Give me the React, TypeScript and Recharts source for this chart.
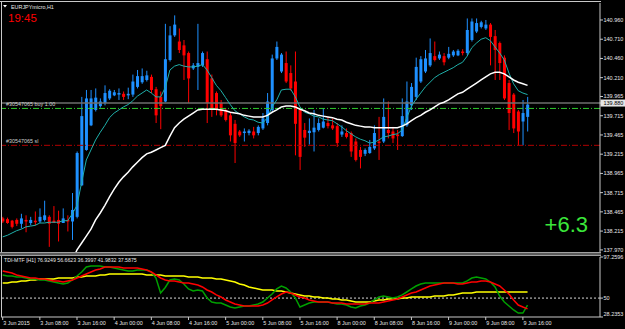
import React from 'react';
import { ComposedChart, Bar, Line, XAxis, YAxis, ReferenceLine } from 'recharts';

const symbolTitle = 'EURJPYmicro,H1';
const clockText = '19:45';
const profitText = '+6.3';
const tdiTitle = 'TDI-MTF [H1] 76.9249 56.6623 36.3997 41.9832 37.5875';
const buyLabel = '#30547065 buy 1.00';
const slLabel = '#30547065 sl';

const timeLabels = ['3 Jun 2015', '3 Jun 08:00', '3 Jun 16:00', '4 Jun 00:00', '4 Jun 08:00', '4 Jun 16:00', '5 Jun 00:00', '5 Jun 08:00', '5 Jun 16:00', '8 Jun 00:00', '8 Jun 08:00', '8 Jun 16:00', '9 Jun 00:00', '9 Jun 08:00', '9 Jun 16:00'];
const timeTickIdx = [0, 8, 16, 24, 32, 40, 48, 56, 64, 72, 80, 88, 96, 104, 112];

const priceTicks = [140.96, 140.71, 140.46, 140.21, 139.965, 139.715, 139.465, 139.215, 138.965, 138.715, 138.465, 138.215, 137.97];
const bidPrice = 139.88;
const buyPrice = 139.81;
const slPrice = 139.33;
const tdiTicks = [97.2596, 50, 28.2353];
const tdiMid = 50;

const opens = [
  138.38, 138.37, 138.35, 138.36, 138.31, 138.36, 138.32, 138.35, 138.34, 138.36,
  138.40, 138.35, 138.36, 138.32, 138.36, 138.34, 138.40, 138.81, 139.27, 139.59,
  139.79, 139.84, 139.88, 139.94, 139.98, 139.99, 140.00, 139.98, 139.99, 140.09,
  140.15, 140.18, 140.22, 140.06, 139.96, 139.90, 140.44, 140.76, 140.68, 140.63,
  140.53, 140.33, 140.35, 140.37, 140.45, 140.20, 140.01, 139.88, 139.79, 139.72,
  139.61, 139.51, 139.49, 139.49, 139.51, 139.49, 139.55, 139.62, 139.79, 140.46,
  140.29, 140.40, 140.27, 140.16, 139.79, 139.53, 139.49, 139.50, 139.53, 139.56,
  139.62, 139.59, 139.58, 139.47, 139.49, 139.49, 139.38, 139.27, 139.22, 139.23,
  139.29, 139.38, 139.38, 139.53, 139.51, 139.47, 139.45, 139.59, 139.85, 139.96,
  140.16, 140.29, 140.37, 140.49, 140.46, 140.49, 140.47, 140.50, 140.50, 140.55,
  140.53, 140.70, 140.81, 140.87, 140.85, 140.90, 140.75, 140.66, 140.47, 140.14,
  139.99, 139.77, 139.64, 139.70,
];
const highs = [
  138.40, 138.39, 138.36, 138.38, 138.44, 138.42, 138.40, 138.47, 138.51, 138.61,
  138.42, 138.54, 138.48, 138.51, 138.42, 138.71, 139.25, 139.96, 140.05, 140.05,
  140.07, 139.94, 140.11, 140.06, 140.05, 140.07, 140.03, 140.08, 140.25, 140.31,
  140.33, 140.30, 140.25, 140.09, 140.03, 140.91, 140.88, 141.02, 140.85, 140.70,
  140.55, 140.40, 140.91, 140.55, 140.55, 140.25, 140.03, 139.92, 139.81, 139.75,
  139.66, 139.53, 139.55, 139.54, 139.57, 139.59, 139.75, 140.01, 140.51, 140.68,
  140.53, 140.55, 140.37, 140.55, 139.83, 139.62, 139.68, 139.79, 139.68, 139.81,
  139.70, 139.68, 139.62, 139.59, 139.55, 139.51, 139.42, 139.31, 139.29, 139.40,
  139.59, 139.70, 139.94, 139.90, 139.57, 139.53, 139.94, 140.16, 140.14, 140.47,
  140.49, 140.57, 140.72, 140.68, 140.55, 140.53, 140.61, 140.57, 140.58, 140.58,
  140.98, 140.98, 140.98, 140.95, 140.96, 140.92, 140.83, 140.68, 140.50, 140.18,
  140.01, 139.79, 139.92, 139.96,
];
const lows = [
  138.32, 138.31, 138.25, 138.28, 138.25, 138.20, 138.29, 138.29, 138.32, 138.34,
  138.01, 138.32, 138.08, 138.32, 138.21, 138.10, 138.38, 138.80, 139.26, 139.58,
  139.77, 139.82, 139.85, 139.92, 139.97, 139.92, 139.92, 139.93, 139.96, 140.07,
  140.13, 140.16, 140.01, 139.62, 139.54, 139.89, 140.42, 140.74, 140.53, 140.18,
  139.88, 140.31, 140.05, 140.35, 139.62, 139.70, 139.72, 139.70, 139.64, 139.38,
  139.10, 139.44, 139.38, 139.46, 139.42, 139.46, 139.53, 139.59, 139.77, 140.44,
  140.27, 140.14, 140.04, 139.20, 139.01, 139.31, 139.34, 139.25, 139.51, 139.55,
  139.55, 139.53, 139.31, 139.44, 139.42, 139.18, 139.12, 139.03, 139.19, 139.22,
  139.27, 139.14, 139.36, 139.42, 139.36, 139.27, 139.44, 139.57, 139.79, 139.92,
  140.14, 140.27, 140.35, 140.42, 140.44, 140.37, 140.45, 140.48, 140.49, 140.50,
  140.50, 140.68, 140.79, 140.85, 140.83, 140.37, 140.18, 140.18, 139.92, 139.53,
  139.49, 139.33, 139.33, 139.51,
];
const closes = [
  138.34, 138.32, 138.27, 138.31, 138.38, 138.34, 138.36, 138.33, 138.40, 138.42,
  138.31, 138.32, 138.31, 138.38, 138.34, 138.49, 139.23, 139.71, 139.94, 139.94,
  139.95, 139.90, 140.01, 140.04, 140.02, 140.01, 139.96, 140.00, 140.16, 140.23,
  140.23, 140.24, 140.05, 139.72, 139.84, 140.45, 140.76, 140.90, 140.57, 140.50,
  140.20, 140.37, 140.40, 140.53, 139.88, 139.79, 139.79, 139.72, 139.66, 139.46,
  139.36, 139.46, 139.51, 139.52, 139.46, 139.57, 139.68, 139.90, 140.46, 140.61,
  140.51, 140.16, 140.07, 139.61, 139.18, 139.43, 139.52, 139.56, 139.62, 139.64,
  139.58, 139.55, 139.36, 139.51, 139.44, 139.25, 139.14, 139.18, 139.27, 139.31,
  139.49, 139.36, 139.70, 139.49, 139.42, 139.45, 139.71, 139.90, 140.09, 140.35,
  140.45, 140.46, 140.53, 140.44, 140.51, 140.41, 140.52, 140.55, 140.56, 140.53,
  140.83, 140.94, 140.92, 140.93, 140.90, 140.74, 140.57, 140.40, 139.94, 139.75,
  139.55, 139.51, 139.75, 139.86,
];
const fastMA = [
  138.14, 138.16, 138.19, 138.22, 138.24, 138.27, 138.28, 138.29, 138.32, 138.32,
  138.33, 138.33, 138.33, 138.35, 138.35, 138.44, 138.55, 138.85, 139.14, 139.27,
  139.40, 139.50, 139.59, 139.69, 139.75, 139.79, 139.83, 139.86, 139.91, 139.97,
  140.01, 140.05, 140.01, 139.96, 139.96, 140.08, 140.31, 140.36, 140.38, 140.36,
  140.35, 140.35, 140.36, 140.38, 140.31, 140.21, 140.11, 140.04, 139.95, 139.86,
  139.78, 139.74, 139.70, 139.67, 139.66, 139.63, 139.62, 139.69, 139.83, 139.92,
  140.05, 140.06, 140.06, 139.96, 139.83, 139.76, 139.74, 139.71, 139.70, 139.67,
  139.66, 139.65, 139.61, 139.57, 139.52, 139.48, 139.44, 139.41, 139.39, 139.36,
  139.37, 139.40, 139.44, 139.45, 139.47, 139.48, 139.53, 139.69, 139.84, 139.93,
  140.01, 140.09, 140.15, 140.21, 140.25, 140.28, 140.31, 140.34, 140.38, 140.41,
  140.49, 140.60, 140.66, 140.71, 140.73, 140.69, 140.61, 140.53, 140.44, 140.27,
  140.13, 140.04, 140.01, 139.99,
];
const slowMA = [
  null, null, null, null, null, null, null, null, null, null,
  null, null, null, null, null, 137.84, 137.97, 138.06, 138.15, 138.24,
  138.36, 138.45, 138.55, 138.66, 138.76, 138.85, 138.92, 138.98, 139.05, 139.11,
  139.17, 139.22, 139.24, 139.27, 139.30, 139.33, 139.45, 139.56, 139.62, 139.67,
  139.71, 139.75, 139.79, 139.80, 139.80, 139.80, 139.80, 139.79, 139.78, 139.76,
  139.75, 139.74, 139.72, 139.71, 139.70, 139.70, 139.70, 139.72, 139.76, 139.79,
  139.83, 139.84, 139.84, 139.83, 139.80, 139.78, 139.75, 139.74, 139.72, 139.71,
  139.70, 139.69, 139.67, 139.66, 139.63, 139.61, 139.59, 139.58, 139.57, 139.57,
  139.56, 139.56, 139.56, 139.56, 139.56, 139.56, 139.58, 139.61, 139.65, 139.69,
  139.72, 139.76, 139.79, 139.83, 139.87, 139.89, 139.92, 139.96, 140.00, 140.02,
  140.06, 140.10, 140.14, 140.18, 140.22, 140.26, 140.28, 140.28, 140.26, 140.22,
  140.18, 140.15, 140.13, 140.11,
];
const tdiRed = [
  81.2, 80.0, 78.9, 76.6, 75.4, 74.3, 73.1, 73.1, 72.0, 72.0,
  70.8, 69.7, 69.7, 68.5, 69.7, 70.8, 73.1, 75.4, 77.7, 80.0,
  82.3, 83.5, 85.8, 85.8, 85.8, 85.8, 84.6, 84.6, 84.6, 84.6,
  83.5, 82.3, 80.0, 76.6, 73.1, 70.8, 69.7, 69.7, 68.5, 67.4,
  67.4, 66.2, 65.1, 62.8, 59.3, 57.0, 53.6, 51.3, 47.8, 45.5,
  43.2, 42.0, 40.9, 40.9, 40.9, 40.9, 42.0, 44.3, 47.8, 51.3,
  54.7, 57.0, 55.9, 53.6, 51.3, 50.1, 47.8, 46.7, 45.5, 45.5,
  45.5, 44.3, 44.3, 44.3, 43.2, 43.2, 43.2, 43.2, 43.2, 44.3,
  44.3, 44.3, 45.5, 46.7, 47.8, 49.0, 51.3, 53.6, 55.9, 57.0,
  59.3, 61.6, 63.9, 65.1, 66.2, 67.4, 67.4, 67.4, 66.2, 66.2,
  67.4, 68.5, 68.5, 69.7, 69.7, 68.5, 66.2, 63.9, 59.3, 54.7,
  47.8, 42.0, 39.7, 37.6,
];
const tdiGreen = [
  76.6, 75.4, 75.4, 74.3, 74.3, 73.1, 72.0, 72.0, 70.8, 70.8,
  69.7, 68.5, 67.4, 66.2, 67.4, 70.8, 75.4, 80.0, 85.8, 86.9,
  86.9, 86.9, 85.8, 85.8, 84.6, 83.5, 82.3, 81.2, 81.2, 82.3,
  82.3, 82.3, 80.0, 73.1, 56.0, 62.2, 70.8, 72.0, 70.8, 66.2,
  60.5, 58.2, 59.3, 58.2, 50.1, 45.5, 44.3, 44.3, 42.0, 39.7,
  38.6, 39.7, 40.9, 40.9, 42.0, 43.2, 45.5, 50.1, 54.7, 60.5,
  63.9, 61.6, 57.0, 50.1, 39.7, 42.0, 44.3, 45.5, 45.5, 45.5,
  45.5, 44.3, 43.2, 43.2, 42.0, 39.7, 38.6, 40.9, 42.0, 44.3,
  47.8, 51.3, 52.4, 51.3, 50.1, 51.3, 53.6, 57.0, 60.5, 63.9,
  66.2, 67.4, 67.4, 67.4, 67.4, 67.4, 67.4, 67.4, 67.4, 67.4,
  69.7, 73.1, 74.3, 73.1, 72.0, 68.5, 62.8, 52.4, 45.5, 40.9,
  36.3, 32.8, 32.8, 42.0,
];
const tdiYellow = [
  67.4, 67.4, 68.5, 68.5, 69.7, 69.7, 70.8, 70.8, 72.0, 72.0,
  72.0, 72.0, 73.1, 73.1, 73.1, 73.1, 74.3, 74.3, 75.4, 75.4,
  75.4, 76.6, 76.6, 77.7, 77.7, 77.7, 77.7, 77.7, 77.7, 77.7,
  77.7, 76.6, 76.6, 76.6, 76.6, 75.4, 75.4, 75.4, 75.4, 75.4,
  74.3, 74.3, 74.3, 73.1, 73.1, 73.1, 72.0, 72.0, 70.8, 69.7,
  68.5, 66.2, 65.1, 62.8, 61.6, 60.5, 59.3, 59.3, 59.3, 58.2,
  58.2, 57.0, 55.9, 54.7, 53.6, 52.4, 52.4, 51.3, 51.3, 50.1,
  50.1, 49.0, 49.0, 47.8, 47.8, 46.7, 45.5, 45.5, 45.5, 45.5,
  46.7, 47.8, 47.8, 49.0, 49.0, 49.0, 50.1, 50.1, 51.3, 51.3,
  51.3, 51.3, 51.3, 52.4, 52.4, 52.4, 53.6, 53.6, 54.7, 55.9,
  55.9, 55.9, 57.0, 57.0, 57.0, 57.0, 57.0, 57.0, 57.0, 57.0,
  57.0, 57.0, 57.0, 57.0,
];

const data = opens.map((o, i) => ({
  i,
  o,
  h: highs[i],
  l: lows[i],
  c: closes[i],
  fast: fastMA[i],
  slow: slowMA[i],
  g: tdiGreen[i],
  r: tdiRed[i],
  yl: tdiYellow[i],
}));

const FONT = "'Liberation Sans', Arial, sans-serif";
const AXIS_GRAY = '#c8c8c8';
const TEXT_COL = '#e8e8e8';
const X_DOMAIN: [number, number] = [-0.366, 128.6];

const Candle = (props: any) => {
  const { x, y, width, height, payload } = props;
  if (x == null || y == null || payload == null) return null;
  const top = Math.min(y, y + height);
  const h = Math.abs(height);
  const range = payload.h - payload.l;
  const k = range > 0 ? h / range : 0;
  const cx = x + width / 2;
  const bodyTop = top + (payload.h - Math.max(payload.o, payload.c)) * k;
  const bodyH = Math.max(1, Math.abs(payload.o - payload.c) * k);
  const col = payload.c >= payload.o ? '#1e90ff' : '#ff0000';
  return (
    <g>
      <line x1={cx} x2={cx} y1={top} y2={top + h} stroke={col} strokeWidth={1} />
      <rect x={cx - 1.5} y={bodyTop} width={3} height={bodyH} fill={col} />
    </g>
  );
};

const PriceTick = (props: any) => {
  const { x, y, payload } = props;
  const v = payload.value;
  if (Math.abs(v - bidPrice) < 1e-6) {
    return (
      <g>
        <rect x={x - 3} y={y - 3.5} width={625 - x + 3} height={7} fill="#e6e6e6" />
        <text x={x} y={y} dy="0.35em" fontSize={5.5} fontFamily={FONT} fill="#000">
          {v.toFixed(3)}
        </text>
      </g>
    );
  }
  return (
    <text x={x} y={y} dy="0.35em" fontSize={5.5} fontFamily={FONT} fill={TEXT_COL}>
      {v.toFixed(3)}
    </text>
  );
};

const TdiTick = (props: any) => {
  const { x, y, payload } = props;
  const v = payload.value;
  const shift = v < 40 ? -2.5 : v > 90 ? 0.5 : 0;
  return (
    <text x={x} y={y + shift} dy="0.35em" fontSize={5.5} fontFamily={FONT} fill={TEXT_COL}>
      {String(v)}
    </text>
  );
};

const TimeTick = (props: any) => {
  const { x, payload } = props;
  const idx = timeTickIdx.indexOf(payload.value);
  const label = idx >= 0 ? timeLabels[idx] : '';
  return (
    <g>
      <line x1={x} x2={x} y1={317} y2={320} stroke={AXIS_GRAY} strokeWidth={1} />
      <text x={x + 0.5} y={325} fontSize={5.4} fontFamily={FONT} fill={TEXT_COL}>
        {label}
      </text>
    </g>
  );
};

const RefLabel = (props: any) => {
  const { viewBox, text } = props;
  if (!viewBox) return null;
  return (
    <text x={viewBox.x + 5} y={viewBox.y - 2} fontSize={5.4} fontFamily={FONT} fill="#d0d0d0">
      {text}
    </text>
  );
};

export default function App() {
  return (
    <div style={{ position: 'absolute', left: 0, top: 0, width: 625, height: 329, background: '#000', overflow: 'hidden' }}>
      <div style={{ position: 'absolute', left: 0, top: 0 }}>
        <ComposedChart width={625} height={329} data={data} margin={{ top: 3, right: 0, bottom: 77, left: 1 }}>
          <XAxis type="number" dataKey="i" domain={X_DOMAIN} allowDataOverflow hide />
          <YAxis
            type="number"
            orientation="right"
            width={25}
            domain={[137.943, 141.181]}
            allowDataOverflow
            ticks={[...priceTicks, bidPrice]}
            interval={0}
            tick={<PriceTick />}
            tickSize={3}
            tickMargin={0.5}
            tickLine={{ stroke: AXIS_GRAY }}
            axisLine={{ stroke: AXIS_GRAY }}
          />
          <ReferenceLine y={bidPrice} stroke="#6e6e6e" strokeWidth={1.5} />
          <ReferenceLine y={buyPrice} stroke="#2ecc2e" strokeDasharray="6 2 1 2" label={<RefLabel text={buyLabel} />} />
          <ReferenceLine y={slPrice} stroke="#b00000" strokeDasharray="6 2 1 2" label={<RefLabel text={slLabel} />} />
          <Bar dataKey={(d: any) => [d.l, d.h]} shape={<Candle />} isAnimationActive={false} />
          <Line dataKey="fast" stroke="#1fb0aa" strokeWidth={1} dot={false} isAnimationActive={false} />
          <Line dataKey="slow" stroke="#ffffff" strokeWidth={1.5} dot={false} isAnimationActive={false} />
        </ComposedChart>
      </div>
      <div style={{ position: 'absolute', left: 0, top: 0 }}>
        <ComposedChart width={625} height={329} data={data} margin={{ top: 257, right: 0, bottom: 0, left: 1 }}>
          <XAxis
            type="number"
            dataKey="i"
            domain={X_DOMAIN}
            allowDataOverflow
            ticks={timeTickIdx}
            interval={0}
            height={12}
            tick={<TimeTick />}
            tickLine={false}
            axisLine={{ stroke: AXIS_GRAY }}
          />
          <YAxis
            type="number"
            orientation="right"
            width={25}
            domain={[28.2353, 97.2596]}
            allowDataOverflow
            ticks={tdiTicks}
            interval={0}
            tick={<TdiTick />}
            tickSize={3}
            tickMargin={0.5}
            tickLine={{ stroke: AXIS_GRAY }}
            axisLine={{ stroke: AXIS_GRAY }}
          />
          <ReferenceLine y={tdiMid} stroke="#d8d8d8" strokeDasharray="2 2" />
          <Line dataKey="yl" stroke="#ffff00" strokeWidth={1.5} dot={false} isAnimationActive={false} />
          <Line dataKey="g" stroke="#00a000" strokeWidth={1.5} dot={false} isAnimationActive={false} />
          <Line dataKey="r" stroke="#ff0000" strokeWidth={1.5} dot={false} isAnimationActive={false} />
        </ComposedChart>
      </div>
      <svg width={625} height={329} style={{ position: 'absolute', left: 0, top: 0, pointerEvents: 'none' }}>
        <line x1={0} x2={601} y1={1.5} y2={1.5} stroke={AXIS_GRAY} strokeWidth={1} />
        <line x1={1.5} x2={1.5} y1={1} y2={317} stroke={AXIS_GRAY} strokeWidth={1} />
        <rect x={0} y={252} width={601} height={4} fill="#5a5a5a" />
        <line x1={0} x2={601} y1={252.5} y2={252.5} stroke="#a0a0a0" strokeWidth={1} />
        <line x1={0} x2={601} y1={255.5} y2={255.5} stroke="#a0a0a0" strokeWidth={1} />
        <polygon points="3,5 7,5 5,7.5" fill="#ffffff" />
        <text x={11} y={8.5} fontSize={5.4} fontFamily={FONT} fill={TEXT_COL}>{symbolTitle}</text>
        <text x={8} y={22.3} fontSize={11.5} fontFamily={FONT} fill="#ff0000">{clockText}</text>
        <text x={588} y={232.3} fontSize={22} fontFamily={FONT} fill="#3ae63a" textAnchor="end">{profitText}</text>
        <text x={4} y={261.5} fontSize={5.2} fontFamily={FONT} fill={TEXT_COL}>{tdiTitle}</text>
      </svg>
    </div>
  );
}
